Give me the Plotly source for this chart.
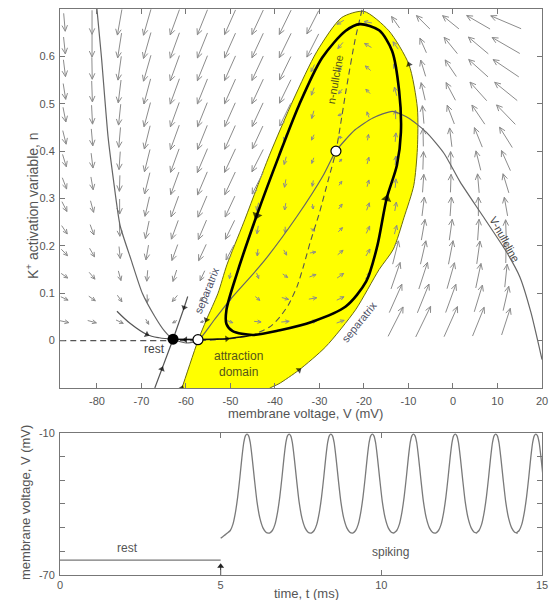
import math
import plotly.graph_objects as go

# ---------------- figure geometry / style ----------------
# the page body adds an 8 px margin, so the figure is sized to fit inside it
PAGE_OFF = 8
W, H = 550, 592
ML, MR, MT, MB = 52, 16, 1, 25
TOP_DOMAIN = [0.3304, 1.0]
BOT_DOMAIN = [0.0, 0.2509]
FONT = "Liberation Sans, Arial, Helvetica, sans-serif"
TXT = "#555555"
AXC = "#777777"

# ---------------- data: phase plane ----------------
V_RANGE = [-88.3, 20.0]
N_RANGE = [-0.1, 0.7]
v_ticks = [-80, -70, -60, -50, -40, -30, -20, -10, 0, 10, 20]
v_tick_text = ["-80", "-70", "-60", "-50", "-40", "-30", "-20", "-10", "0", "10", "20"]
n_ticks = [0, 0.1, 0.2, 0.3, 0.4, 0.5, 0.6]
n_tick_text = ["0", "0.1", "0.2", "0.3", "0.4", "0.5", "0.6"]

rest_V, rest_n = -62.9, 0.003
saddle_V, saddle_n = -57.3, 0.002
focus_V, focus_n = -26.3, 0.40

# V-nullcline
vnull_V = [-80.1, -79.0, -77.5, -76.3, -74.8, -72.3, -69.8, -67.0, -64.8, -62.9, -60.0, -57.3,
           -53.7, -50.1, -42.7, -35.0, -29.2, -26.3, -22.0, -18.0, -13.6, -10.0, -6.0, -2.0,
           1.6, 6.7, 12.1, 15.0, 17.5, 20.0]
vnull_n = [0.71, 0.60, 0.43, 0.34, 0.243, 0.17, 0.10, 0.051, 0.02, 0.003, -0.005, 0.0,
           0.043, 0.086, 0.165, 0.263, 0.348, 0.40, 0.445, 0.47, 0.484, 0.47, 0.44, 0.395,
           0.335, 0.263, 0.186, 0.135, 0.06, -0.04]

# n-nullcline (dashed)
nnull_V = [-88.3, -62.9, -57.3, -50.0, -45.0, -41.0, -38.9, -37.0, -35.0, -33.5, -32.1, -30.0,
           -28.0, -26.3, -24.0, -22.0, -20.4]
nnull_n = [0.0, 0.0, 0.0, 0.004, 0.012, 0.03, 0.05, 0.075, 0.115, 0.16, 0.207, 0.27,
           0.34, 0.40, 0.53, 0.635, 0.70]

# attraction domain (separatrix boundary)
domain_V = [-62.0, -60.9, -57.3, -55.4, -52.8, -50.8, -47.0, -41.3, -35.8, -30.6, -25.0, -20.0,
            -14.4, -9.9, -8.0, -8.0, -8.8, -11.0, -13.4, -16.6, -21.9, -28.6, -34.6, -39.1,
            -41.1, -44.5]
domain_n = [-0.13, -0.1, 0.0, 0.044, 0.1, 0.16, 0.25, 0.39, 0.51, 0.61, 0.682, 0.695,
            0.654, 0.583, 0.491, 0.405, 0.328, 0.26, 0.193, 0.15, 0.065, -0.013, -0.062, -0.091,
            -0.1, -0.125]

# limit cycle (counter-clockwise)
cycle_V = [-50.9, -49.5, -45.0, -38.9, -31.6, -24.1, -19.5, -17.0, -14.9, -12.6, -11.7, -12.1,
           -13.7, -16.6, -20.9, -24.1, -29.4, -34.6, -39.1, -44.1, -48.6, -50.9, -50.9]
cycle_n = [0.035, 0.02, 0.012, 0.022, 0.04, 0.072, 0.125, 0.2, 0.30, 0.37, 0.44, 0.527,
           0.612, 0.655, 0.668, 0.654, 0.597, 0.497, 0.39, 0.264, 0.14, 0.065, 0.035]

# trajectories near rest
manifold_V = [-57.3, -54.0, -50.8, -47.5, -45.0]
manifold_n = [0.002, 0.003, 0.004, 0.008, 0.012]
hetero_V = [-62.9, -60.1, -57.3]
hetero_n = [0.003, 0.002, 0.002]
restline_V = [-67.0, -65.4, -62.9, -60.4, -59.6]
restline_n = [-0.1, -0.06, 0.003, 0.07, 0.093]
into_V = [-75.5, -72.5, -68.8, -66.0, -62.9]
into_n = [0.062, 0.036, 0.013, 0.006, 0.003]

# vector field grid (arrow centres), rows listed top to bottom
field_V = [-87.3, -81.1, -74.9, -68.7, -62.5, -56.3, -50.1, -43.9, -37.7, -31.5, -25.3,
           -19.1, -12.9, -6.7, -0.5, 5.7, 11.9]
field_n = [0.672, 0.623, 0.575, 0.526, 0.477, 0.429, 0.380, 0.332, 0.283, 0.234, 0.186,
           0.137, 0.089, 0.040]
# arrow direction on the page (degrees, 0 = right, 90 = up)
field_angle = [
    [-85, -90, -100, -106, -110, -112, -114, -115, -116, -117, -150, 170, 125, 135, 141, 150, 157],
    [-84, -90, -99, -106, -110, -112, -114, -115, -116, -117, -130, 150, 125, 114, 129, 140, 150],
    [-83, -89, -98, -106, -110, -112, -114, -115, -116, -115, -125, 140, 115, 107, 124, 138, 146],
    [-81, -88, -97, -105, -110, -112, -114, -115, -116, -110, -130, 135, 105, 103, 118, 132, 141],
    [-79, -87, -96, -105, -110, -112, -114, -115, -116, -105, -160, 110, 92, 95, 111, 124, 134],
    [-76, -85, -95, -104, -110, -112, -114, -115, -110, -115, 170, 80, 85, 91, 97, 112, 122],
    [-73, -83, -94, -104, -110, -113, -115, -117, -105, -110, 45, 75, 85, 88, 91, 104, 114],
    [-69, -80, -92, -104, -110, -113, -115, -117, -100, -100, 55, 75, 85, 86, 88, 95, 107],
    [-63, -75, -90, -103, -110, -113, -115, -105, -100, -80, 55, 70, 80, 83, 86, 90, 100],
    [-56, -70, -88, -102, -110, -113, -116, -100, -90, -30, 45, 65, 75, 80, 82, 86, 92],
    [-46, -60, -84, -100, -110, -115, -118, -95, -60, 10, 40, 60, 76, 77, 79, 82, 89],
    [-35, -50, -75, -95, -108, -115, -100, -70, -35, 20, 35, 50, 71, 72, 74, 78, 84],
    [-25, -35, -55, -88, -130, -140, -85, -40, -15, 10, 25, 0, 66, 68, 70, 73, 77],
    [-12, -15, -25, -60, -150, -165, -20, -5, 5, 12, 20, 0, 63, 64, 66, 68, 72],
]
# relative arrow magnitude (0 = no arrow drawn)
field_mag = [
    [18, 24, 26, 27, 27, 27, 27, 27, 27, 26, 8, 8, 14, 19, 21, 27, 33],
    [17, 23, 25, 27, 27, 27, 27, 27, 27, 26, 8, 8, 9, 16, 21, 26, 32],
    [17, 22, 24, 27, 27, 27, 27, 27, 26, 8, 7, 7, 9, 17, 20, 26, 31],
    [16, 21, 23, 26, 27, 27, 27, 27, 26, 8, 6, 6, 9, 18, 20, 25, 29],
    [15, 19, 21, 25, 26, 26, 26, 26, 25, 8, 5, 6, 9, 18, 20, 23, 27],
    [14, 17, 20, 24, 26, 26, 26, 25, 8, 6, 4, 6, 9, 18, 19, 21, 24],
    [13, 15, 18, 23, 25, 26, 26, 25, 8, 6, 4, 7, 9, 18, 18, 20, 22],
    [12, 13, 16, 22, 24, 25, 25, 24, 8, 6, 5, 7, 9, 18, 18, 19, 20],
    [11, 12, 15, 20, 22, 23, 23, 8, 7, 5, 6, 8, 9, 19, 19, 19, 19],
    [10, 11, 13, 18, 20, 21, 21, 8, 6, 5, 6, 8, 9, 21, 21, 21, 20],
    [9, 10, 12, 15, 17, 18, 17, 7, 6, 6, 7, 8, 24, 24, 24, 23, 21],
    [8, 9, 10, 11, 12, 11, 6, 6, 6, 7, 8, 8, 28, 28, 27, 25, 23],
    [8, 8, 8, 8, 8, 7, 5, 6, 7, 8, 8, 0, 31, 31, 30, 28, 25],
    [9, 9, 8, 6, 5, 4, 6, 7, 8, 8, 8, 0, 33, 34, 33, 31, 28],
]

# ---------------- data: time course ----------------
T_RANGE = [0, 15]
VT_RANGE = [-70, -10]
t_ticks = [0, 5, 10, 15]
t_tick_text = ["0", "5", "10", "15"]
vt_ticks = [-70, -10]
vt_tick_text = ["-70", "-10"]
vt_minor = [-60, -50, -40, -30, -20]

rest_t = [0.0, 5.0]
rest_v = [-63.7, -63.7]
onset_t = [5.0, 5.1]
onset_v = [-54.5, -53.4]
peak_times = [5.82, 7.13, 8.43, 9.72, 11.0, 12.3, 13.56, 14.81]
spike_dt = [-0.61, -0.52, -0.44, -0.36, -0.29, -0.22, -0.16, -0.10, -0.05, 0.0,
            0.05, 0.10, 0.16, 0.23, 0.31, 0.40, 0.50, 0.59, 0.67]
spike_v = [-52.3, -51.2, -48.6, -43.5, -37.0, -28.5, -20.5, -14.0, -11.2, -10.5,
           -11.2, -14.0, -20.5, -29.5, -39.0, -46.0, -50.2, -51.9, -52.3]
stim_t = [5.0, 5.0]
stim_v = [-70.0, -66.3]

# ---------------- scales ----------------
PW = W - ML - MR
PH = H - MT - MB
top_h = PH * (TOP_DOMAIN[1] - TOP_DOMAIN[0])
sx = PW / (V_RANGE[1] - V_RANGE[0])      # px per mV
sy = top_h / (N_RANGE[1] - N_RANGE[0])   # px per unit n


def paper(px, py):
    """page pixel position -> paper coordinates"""
    return (px - PAGE_OFF - ML) / PW, (H - MB - (py - PAGE_OFF)) / PH


fig = go.Figure()

# attraction domain
fig.add_trace(go.Scatter(
    x=domain_V, y=domain_n, mode="lines", fill="toself", fillcolor="#ffff00",
    line=dict(color="#6b6b10", width=1, shape="spline", smoothing=0.7),
    hoverinfo="skip", showlegend=False))

# vector field arrows
ax_, ay_ = [], []
for j, nv in enumerate(field_n):
    for k, vv in enumerate(field_V):
        L = field_mag[j][k]
        if L <= 0:
            continue
        a = math.radians(field_angle[j][k])
        ux, uy = math.cos(a), math.sin(a)
        tx, ty = vv - 0.5 * L * ux / sx, nv - 0.5 * L * uy / sy
        hx, hy = vv + 0.5 * L * ux / sx, nv + 0.5 * L * uy / sy
        ax_ += [tx, hx, None]
        ay_ += [ty, hy, None]
        hl = min(6.5, 0.35 * L + 1.5)
        for s in (1, -1):
            b = a + math.pi + s * math.radians(25)
            ax_ += [hx, hx + hl * math.cos(b) / sx, None]
            ay_ += [hy, hy + hl * math.sin(b) / sy, None]
fig.add_trace(go.Scatter(x=ax_, y=ay_, mode="lines",
                         line=dict(color="#8c8c8c", width=1),
                         hoverinfo="skip", showlegend=False))

# nullclines
fig.add_trace(go.Scatter(x=nnull_V, y=nnull_n, mode="lines",
                         line=dict(color="#555555", width=1.1, dash="6px,4px", shape="spline", smoothing=0.6),
                         hoverinfo="skip", showlegend=False))
fig.add_trace(go.Scatter(x=vnull_V, y=vnull_n, mode="lines",
                         line=dict(color="#666666", width=1.2, shape="spline", smoothing=0.6),
                         hoverinfo="skip", showlegend=False))

# trajectories
fig.add_trace(go.Scatter(x=into_V, y=into_n, mode="lines",
                         line=dict(color="#555555", width=1.2, shape="spline"),
                         hoverinfo="skip", showlegend=False))
fig.add_trace(go.Scatter(x=restline_V, y=restline_n, mode="lines",
                         line=dict(color="#555555", width=1.2),
                         hoverinfo="skip", showlegend=False))
fig.add_trace(go.Scatter(x=hetero_V, y=hetero_n, mode="lines",
                         line=dict(color="#111111", width=1.6),
                         hoverinfo="skip", showlegend=False))
fig.add_trace(go.Scatter(x=manifold_V, y=manifold_n, mode="lines",
                         line=dict(color="#111111", width=1.6, shape="spline"),
                         hoverinfo="skip", showlegend=False))
fig.add_trace(go.Scatter(x=cycle_V, y=cycle_n, mode="lines",
                         line=dict(color="#000000", width=2.6, shape="spline", smoothing=0.8),
                         hoverinfo="skip", showlegend=False))


# direction heads on curves
def heads(specs):
    xs, ys, angs = [], [], []
    for Vs, ns, i, a, b in specs:
        dx = (Vs[b] - Vs[a]) * sx
        dy = (ns[b] - ns[a]) * sy
        xs.append(Vs[i])
        ys.append(ns[i])
        angs.append(math.degrees(math.atan2(dx, dy)))
    return xs, ys, angs


hx_, hy_, ha_ = heads([
    (cycle_V, cycle_n, 8, 7, 9),
    (cycle_V, cycle_n, 19, 18, 20),
    (manifold_V, manifold_n, 2, 1, 3),
    (hetero_V, hetero_n, 1, 2, 0),
    (restline_V, restline_n, 1, 0, 2),
    (restline_V, restline_n, 3, 4, 2),
    (into_V, into_n, 2, 1, 3),
    (domain_V, domain_n, 1, 1, 2),
    (domain_V, domain_n, 3, 4, 2),
    (domain_V, domain_n, 22, 23, 21),
    (domain_V, domain_n, 13, 14, 12),
])
fig.add_trace(go.Scatter(x=hx_, y=hy_, mode="markers",
                         marker=dict(symbol="triangle-up", size=[9, 9, 6, 6, 6, 6, 6, 6, 6, 6, 6],
                                     angle=ha_, color="#000000", line=dict(width=0)),
                         hoverinfo="skip", showlegend=False))

# equilibria
fig.add_trace(go.Scatter(x=[rest_V], y=[rest_n], mode="markers",
                         marker=dict(size=11, color="#000000"), hoverinfo="skip", showlegend=False))
fig.add_trace(go.Scatter(x=[saddle_V, focus_V], y=[saddle_n, focus_n], mode="markers",
                         marker=dict(size=10, color="#ffffff", line=dict(color="#000000", width=1.2)),
                         hoverinfo="skip", showlegend=False))

# ---------------- time course ----------------
fig.add_trace(go.Scatter(x=rest_t, y=rest_v, mode="lines", xaxis="x2", yaxis="y2",
                         line=dict(color="#777777", width=1.2), hoverinfo="skip", showlegend=False))
sp_t = list(onset_t)
sp_v = list(onset_v)
for p in peak_times:
    for dt, v in zip(spike_dt, spike_v):
        sp_t.append(p + dt)
        sp_v.append(v)
fig.add_trace(go.Scatter(x=sp_t, y=sp_v, mode="lines", xaxis="x2", yaxis="y2",
                         line=dict(color="#7a7a7a", width=1.3, shape="spline", smoothing=0.6),
                         hoverinfo="skip", showlegend=False))
# stimulus arrow
fig.add_trace(go.Scatter(x=stim_t, y=stim_v, mode="lines", xaxis="x2", yaxis="y2",
                         line=dict(color="#222222", width=1), hoverinfo="skip", showlegend=False))
fig.add_trace(go.Scatter(x=stim_t[1:], y=stim_v[1:], mode="markers", xaxis="x2", yaxis="y2",
                         marker=dict(symbol="triangle-up", size=6, color="#222222"),
                         hoverinfo="skip", showlegend=False))

# ---------------- labels ----------------
ann = []


def dtext(x, y, s, size=12, color=TXT, angle=0, xr="x", yr="y"):
    ann.append(dict(x=x, y=y, xref=xr, yref=yr, text=s, showarrow=False, textangle=angle,
                    xanchor="center", yanchor="middle",
                    font=dict(family=FONT, size=size, color=color)))


dtext(-67.0, -0.018, "rest", 12, "#444444")
dtext(-48.3, -0.05, "attraction<br>domain", 12, "#55551a")
dtext(-55.3, 0.107, "separatrix", 11, "#4d5066", -68)
dtext(-21.1, 0.039, "separatrix", 11, "#4d5066", -51)
dtext(-26.6, 0.551, "n-nullcline", 11, "#55551a", -80)
dtext(11.6, 0.215, "V-nullcline", 11, "#444444", 61)
dtext(2.1, -58.6, "rest", 12, TXT, 0, "x2", "y2")
dtext(10.3, -60.2, "spiking", 12, TXT, 0, "x2", "y2")


def ptext(px, py, s, size=12, angle=0):
    x, y = paper(px, py)
    ann.append(dict(x=x, y=y, xref="paper", yref="paper", text=s, showarrow=False,
                    textangle=angle, xanchor="center", yanchor="middle",
                    font=dict(family=FONT, size=size, color=TXT)))


ptext(305, 413, "membrane voltage, V (mV)", 13)
ptext(32, 206, "K<sup>+</sup> activation variable, n", 14, -90)
ptext(25, 503, "membrane voltage, V (mV)", 13, -90)
ptext(306, 593, "time, t (ms)", 13)

axis_common = dict(ticks="inside", ticklen=5, tickcolor=AXC, showline=True, linecolor=AXC,
                   linewidth=1, mirror="ticks", showgrid=False, zeroline=False,
                   tickfont=dict(family=FONT, size=11, color=TXT))

fig.update_layout(
    width=W, height=H, margin=dict(l=ML, r=MR, t=MT, b=MB, autoexpand=False),
    paper_bgcolor="white", plot_bgcolor="white", showlegend=False,
    xaxis=dict(domain=[0, 1], range=V_RANGE, anchor="y", tickvals=v_ticks,
               ticktext=v_tick_text, ticklabelstandoff=3, **axis_common),
    yaxis=dict(domain=TOP_DOMAIN, range=N_RANGE, anchor="x", tickvals=n_ticks,
               ticktext=n_tick_text, ticklabelstandoff=2, **axis_common),
    xaxis2=dict(domain=[0, 1], range=T_RANGE, anchor="y2", tickvals=t_ticks,
                ticktext=t_tick_text, **axis_common),
    yaxis2=dict(domain=BOT_DOMAIN, range=VT_RANGE, anchor="x2", tickvals=vt_ticks,
                ticktext=vt_tick_text, ticklabelstandoff=2,
                minor=dict(tickvals=vt_minor, ticks="inside", ticklen=5, tickcolor=AXC),
                **axis_common),
    annotations=ann,
)

fig.write_html("out.html")
